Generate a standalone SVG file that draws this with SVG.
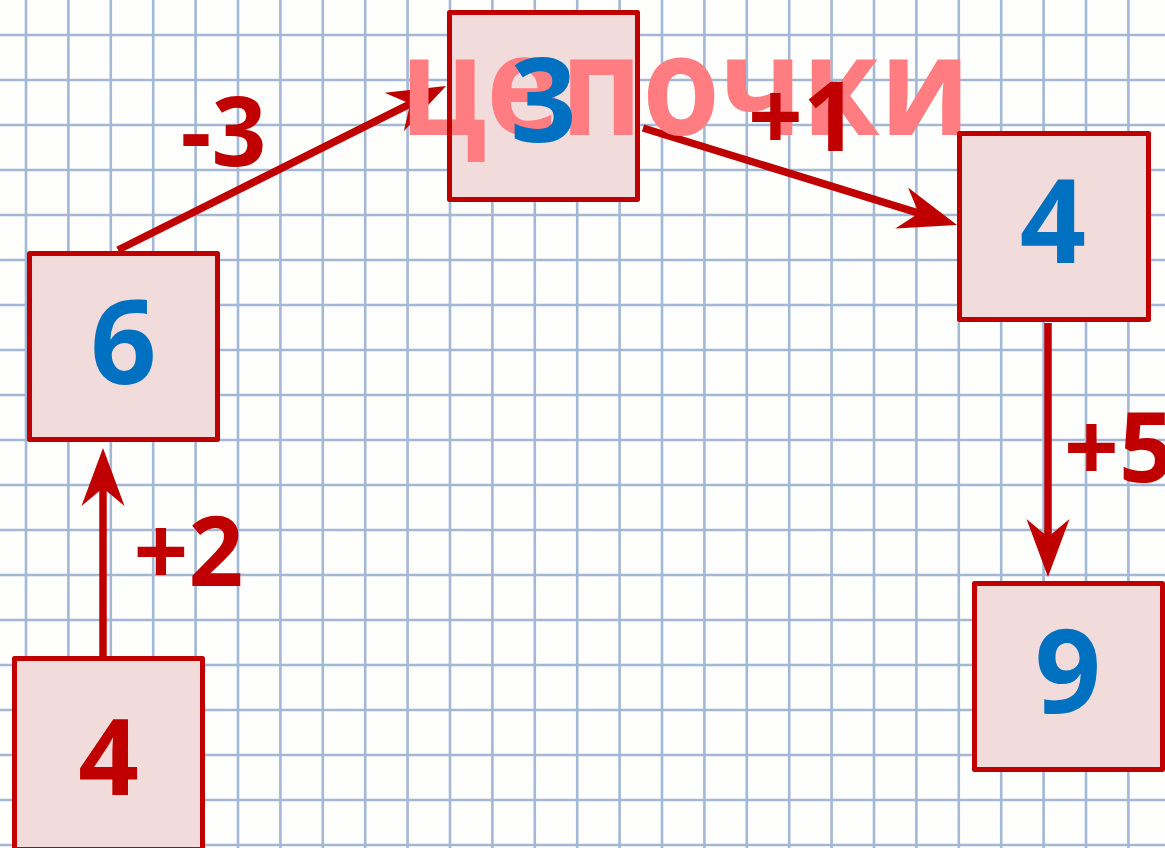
<svg xmlns="http://www.w3.org/2000/svg" width="1165" height="848" viewBox="0 0 1165 848">
  <style>
    .grid { stroke: #a3b8d6; stroke-width: 2.6; fill: none; }
    .edge { stroke: #c00000; stroke-width: 7.5; fill: none; }
    .box { fill: #f2dcdb; stroke: #c00000; stroke-width: 5; stroke-linejoin: round; }
    .boxfill { fill: #f2dcdb; stroke: none; }
    .boxline { fill: none; stroke: #c00000; stroke-width: 5; stroke-linejoin: round; }
    .num { font-family: "Open Sans", "Noto Sans", sans-serif; font-weight: bold; font-size: 116px; fill: #0070c0; text-anchor: middle; }
    .num-red { fill: #c00000; font-size: 106px; }
    .lbl { font-family: "Open Sans", "Noto Sans", sans-serif; font-weight: bold; font-size: 96px; fill: #c00000; }
    .title { font-family: "Open Sans", "Noto Sans", sans-serif; font-weight: bold; font-size: 138px; fill: #ff7c80; }
  </style>
  <defs>
    <marker id="arrow" viewBox="-60 -25 62 50" markerWidth="62" markerHeight="50" refX="-30" refY="0" orient="auto" markerUnits="userSpaceOnUse" overflow="visible">
      <path d="M0,0 L-58,-21.5 L-40,0 L-58,21.5 Z" fill="#c00000"/>
    </marker>
  </defs>

  <rect width="1165" height="848" fill="#fefefc"/>
  <path class="grid" d="M26 0V848M68.4 0V848M110.8 0V848M153.2 0V848M195.6 0V848M238 0V848M280.4 0V848M322.8 0V848M365.2 0V848M407.6 0V848M450 0V848M492.4 0V848M534.8 0V848M577.2 0V848M619.6 0V848M662 0V848M704.4 0V848M746.8 0V848M789.2 0V848M831.6 0V848M874 0V848M916.4 0V848M958.8 0V848M1001.2 0V848M1043.6 0V848M1086 0V848M1128.4 0V848
  M0 35H1165M0 80H1165M0 125H1165M0 170H1165M0 215H1165M0 260H1165M0 305H1165M0 350H1165M0 395H1165M0 440H1165M0 485H1165M0 530H1165M0 575H1165M0 620H1165M0 665H1165M0 710H1165M0 755H1165M0 800H1165M0 845H1165"/>

  <g id="connectors">
    <line class="edge" x1="103" y1="656" x2="103" y2="478" marker-end="url(#arrow)"/>
    <line class="edge" x1="118" y1="250" x2="419.2" y2="99.4" marker-end="url(#arrow)"/>
    <line class="edge" x1="643" y1="128" x2="928.4" y2="216.2" marker-end="url(#arrow)"/>
    <line class="edge" x1="1048" y1="323" x2="1048" y2="547" marker-end="url(#arrow)"/>
  </g>

  <g id="node-start-4">
    <rect class="box" x="14.5" y="658.5" width="188" height="191"/>
    <text class="num num-red" x="108.5" y="795">4</text>
  </g>
  <g id="node-6">
    <rect class="box" x="29.5" y="253.5" width="188" height="186"/>
    <text class="num" x="123.5" y="384">6</text>
  </g>
  <g id="node-3">
    <rect class="boxfill" x="449.5" y="12.5" width="188" height="187"/>
    <g id="title">
      <text class="title" x="400" y="135" textLength="570" lengthAdjust="spacingAndGlyphs">цепочки</text>
    </g>
    <rect class="boxline" x="449.5" y="12.5" width="188" height="187"/>
    <text class="num" x="543.5" y="142">3</text>
  </g>
  <g id="node-4">
    <rect class="box" x="959.5" y="133.5" width="189" height="186"/>
    <text class="num" x="1053" y="263">4</text>
  </g>
  <g id="node-9">
    <rect class="box" x="974.5" y="583.5" width="188" height="186"/>
    <text class="num" x="1068" y="713">9</text>
  </g>

  <g id="edge-labels">
    <text class="lbl" x="223.5" y="166" text-anchor="middle">-3</text>
    <text class="lbl" x="803" y="151" text-anchor="middle">+1</text>
    <text class="lbl" x="188.5" y="586" text-anchor="middle">+2</text>
    <text class="lbl" x="1064" y="482">+5</text>
  </g>
</svg>
